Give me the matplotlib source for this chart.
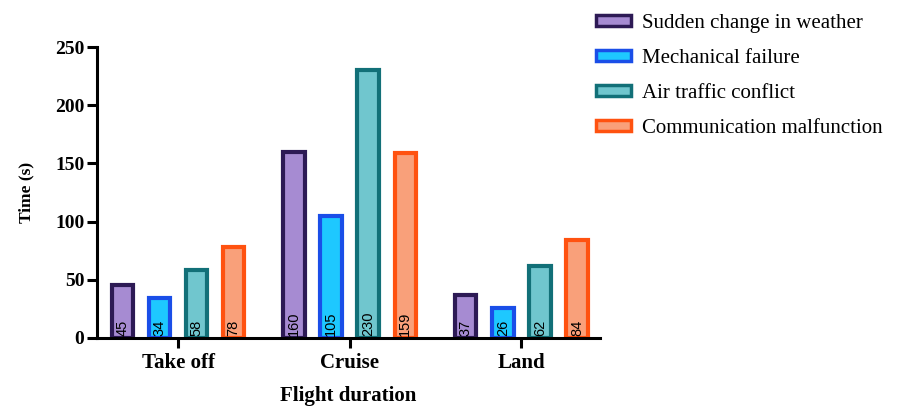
import matplotlib
matplotlib.use("Agg")
import matplotlib.pyplot as plt
import numpy as np
from matplotlib.patches import Patch

categories = ["Take off", "Cruise", "Land"]
series = ["Sudden change in weather", "Mechanical failure", "Air traffic conflict", "Communication malfunction"]
weather = [45, 160, 37]
mechanical = [34, 105, 26]
traffic = [58, 230, 62]
communication = [78, 159, 84]
values = [weather, mechanical, traffic, communication]
edge_colors = ["#2d1a55", "#1a4ee8", "#127078", "#ff5210"]
face_colors = ["#a68bd2", "#1ec8ff", "#70c6ce", "#f9a07a"]
y_ticks = [0, 50, 100, 150, 200, 250]

fig = plt.figure(figsize=(9.21, 4.09), dpi=100)
ax = fig.add_axes([0.105, 0.174, 0.546, 0.711])

x = np.arange(len(categories))
step = 0.216
width = 0.125
for i, (vals, ec, fc) in enumerate(zip(values, edge_colors, face_colors)):
    pos = x + (i - 1.5) * step
    ax.bar(pos, vals, width=width, facecolor=fc, edgecolor=ec, linewidth=3.0, zorder=2)
    for p, v in zip(pos, vals):
        ax.text(p, 1.5, str(v), rotation=90, ha="center", va="bottom",
                fontsize=10.5, family="Liberation Sans", color="black", zorder=3)

ax.set_xlim(-0.474, 2.456)
ax.set_ylim(0, 250)
ax.set_yticks(y_ticks)
ax.set_xticks(x)
ax.set_xticklabels(categories)
for lab in ax.get_xticklabels():
    lab.set_fontfamily("Liberation Serif")
    lab.set_fontweight("bold")
    lab.set_fontsize(15)
for lab in ax.get_yticklabels():
    lab.set_fontfamily("Liberation Serif")
    lab.set_fontweight("bold")
    lab.set_fontsize(14)
ax.tick_params(axis="both", width=2.2, length=7, direction="out")
ax.tick_params(axis="x", pad=4)
ax.tick_params(axis="y", pad=2)
for s in ["top", "right"]:
    ax.spines[s].set_visible(False)
for s in ["left", "bottom"]:
    ax.spines[s].set_linewidth(2.2)

ax.set_ylabel("Time (s)", fontfamily="Liberation Serif", fontweight="bold", fontsize=12.5, labelpad=15)
ax.set_xlabel("Flight duration", fontfamily="Liberation Serif", fontweight="bold", fontsize=15, labelpad=9)

handles = [Patch(facecolor=fc, edgecolor=ec, linewidth=2.5) for ec, fc in zip(edge_colors, face_colors)]
fig.legend(handles, series, loc="upper left", bbox_to_anchor=(0.627, 1.012),
           frameon=False, prop={"family": "Liberation Serif", "size": 15},
           handlelength=1.68, handleheight=0.38, labelspacing=0.77, handletextpad=0.52)

fig.savefig("out.png", dpi=100)
